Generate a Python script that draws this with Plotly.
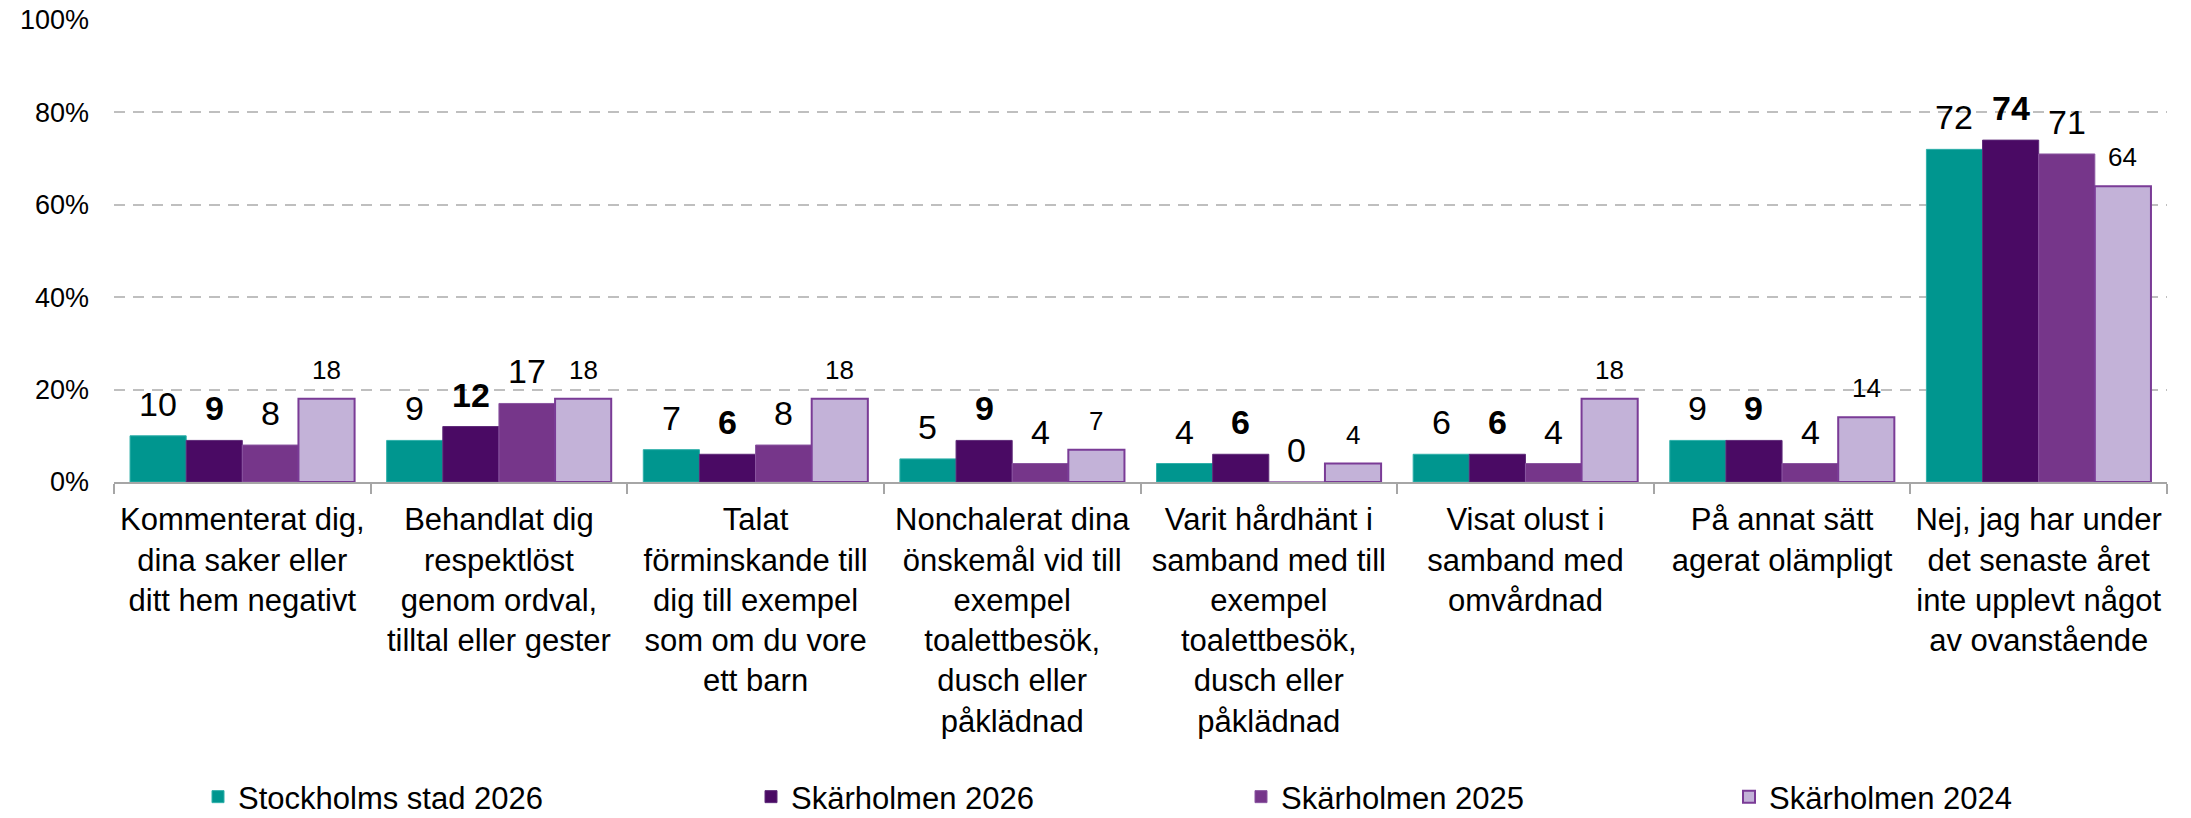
import plotly.graph_objects as go

categories = [
    "Kommenterat dig,<br>dina saker eller<br>ditt hem negativt",
    "Behandlat dig<br>respektlöst<br>genom ordval,<br>tilltal eller gester",
    "Talat<br>förminskande till<br>dig till exempel<br>som om du vore<br>ett barn",
    "Nonchalerat dina<br>önskemål vid till<br>exempel<br>toalettbesök,<br>dusch eller<br>påklädnad",
    "Varit hårdhänt i<br>samband med till<br>exempel<br>toalettbesök,<br>dusch eller<br>påklädnad",
    "Visat olust i<br>samband med<br>omvårdnad",
    "På annat sätt<br>agerat olämpligt",
    "Nej, jag har under<br>det senaste året<br>inte upplevt något<br>av ovanstående",
]

series_names = ["Stockholms stad 2026", "Skärholmen 2026", "Skärholmen 2025", "Skärholmen 2024"]
stockholm_2026 = [10, 9, 7, 5, 4, 6, 9, 72]
skarholmen_2026 = [9, 12, 6, 9, 6, 6, 9, 74]
skarholmen_2025 = [8, 17, 8, 4, 0, 4, 4, 71]
skarholmen_2024 = [18, 18, 18, 7, 4, 18, 14, 64]
y_ticks = [0, 20, 40, 60, 80, 100]
y_ticktext = ["0%", "20%", "40%", "60%", "80%", "100%"]

series_values = [stockholm_2026, skarholmen_2026, skarholmen_2025, skarholmen_2024]
fill_colors = ["#00968F", "#4A0A64", "#76368A", "#C3B2D8"]
line_colors = ["#2FB0AA", "#5E2A78", "#8A55A0", "#7A3B96"]
line_widths = [1, 1, 1, 2]
label_sizes = [34, 34, 34, 26]
label_bold = [False, True, False, False]
legend_ids = ["legend", "legend2", "legend3", "legend4"]
legend_px = [198, 751, 1241, 1729]

FONT = "Liberation Sans, Arial, sans-serif"
W, H = 2191, 818
ML, MR, MT, MB = 114, 24, 20, 336
plot_w = W - ML - MR
plot_h = H - MT - MB
bargap = 0.125

fig = go.Figure()
for k, (name, vals) in enumerate(zip(series_names, series_values)):
    fig.add_trace(go.Bar(
        x=categories, y=vals, name=name,
        marker=dict(color=fill_colors[k], line=dict(color=line_colors[k], width=line_widths[k])),
        legend=legend_ids[k],
    ))

# data labels
n = len(series_values)
bw = (1 - bargap) / n
annotations = []
for k, vals in enumerate(series_values):
    for i, v in enumerate(vals):
        txt = f"<b>{v}</b>" if label_bold[k] else f"{v}"
        annotations.append(dict(
            x=i + (k - (n - 1) / 2) * bw, y=v, xref="x", yref="y",
            text=txt, showarrow=False, yanchor="bottom", xanchor="center",
            yshift=11 if label_sizes[k] > 30 else 12,
            font=dict(family=FONT, size=label_sizes[k], color="#000000"),
        ))

layout_legends = {}
for k, lid in enumerate(legend_ids):
    layout_legends[lid] = dict(
        orientation="h", x=(legend_px[k] - ML) / plot_w, xanchor="left",
        y=(MT + plot_h - 797) / plot_h, yanchor="middle",
        font=dict(family=FONT, size=31, color="#000000"),
        bgcolor="rgba(0,0,0,0)", borderwidth=0,
    )

fig.update_layout(
    width=W, height=H,
    margin=dict(l=ML, r=MR, t=MT, b=MB, autoexpand=False),
    barmode="group", bargap=bargap, bargroupgap=0,
    plot_bgcolor="white", paper_bgcolor="white",
    font=dict(family=FONT, size=31, color="#000000"),
    showlegend=True,
    annotations=annotations,
    **layout_legends,
)
fig.update_xaxes(
    showline=True, linecolor="#A6A6A6", linewidth=2,
    ticks="outside", tickson="boundaries", ticklen=10, tickcolor="#A6A6A6", tickwidth=2,
    tickfont=dict(family=FONT, size=31, color="#000000"),
    showgrid=False, tickangle=0, automargin=False, ticklabelstandoff=9,
)
fig.update_yaxes(
    range=[0, 100], tickvals=y_ticks, ticktext=y_ticktext,
    showgrid=True, gridcolor="#BFBFBF", gridwidth=2, griddash="11px,8px",
    zeroline=False, showline=False, ticks="",
    tickfont=dict(family=FONT, size=27, color="#000000"),
    ticklabelstandoff=24, automargin=False,
)

fig.write_html("out.html")
